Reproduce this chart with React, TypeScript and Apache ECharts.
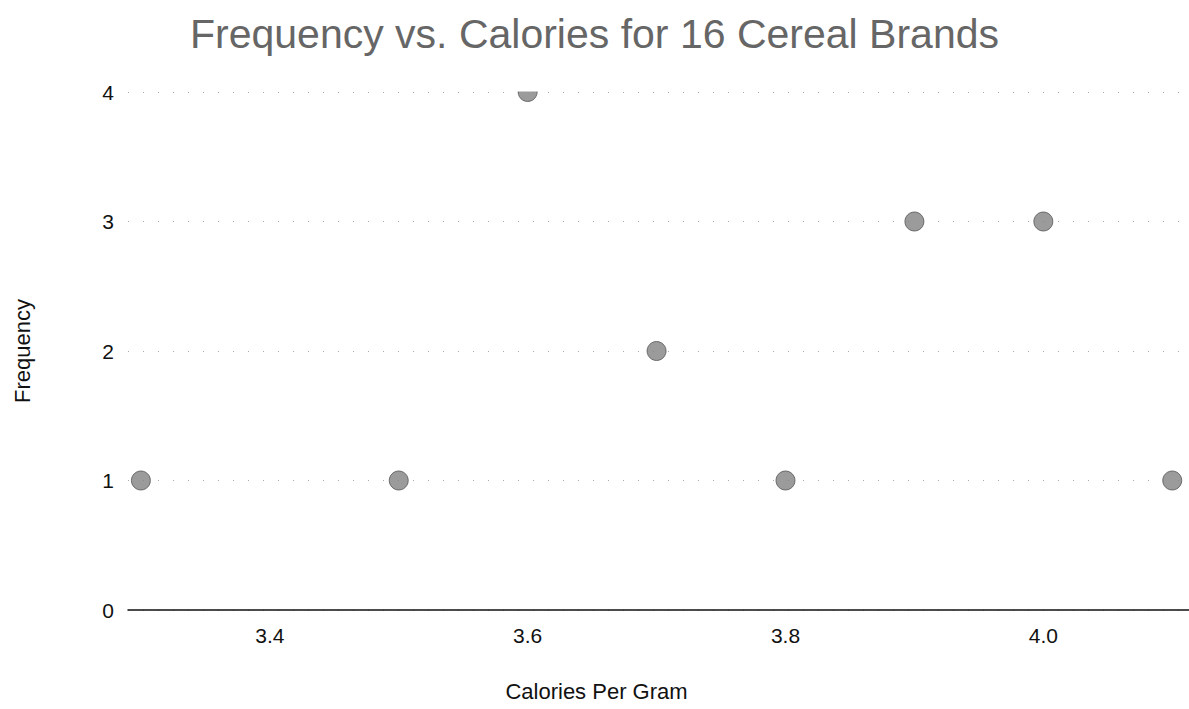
import React, { useEffect, useRef } from "react";
import * as echarts from "echarts";

const calories = [3.3, 3.5, 3.6, 3.7, 3.8, 3.9, 4.0, 4.1];
const frequency = [1, 1, 4, 2, 1, 3, 3, 1];
const xTicks = [3.4, 3.6, 3.8, 4.0];
const titleText = "Frequency vs. Calories for 16 Cereal Brands";
const xName = "Calories Per Gram";
const yName = "Frequency";

export default function App() {
  const ref = useRef<HTMLDivElement>(null);
  useEffect(() => {
    if (!ref.current) return;
    const chart = echarts.init(ref.current, null, { renderer: "svg" });
    const font = "'Liberation Sans', Arial, sans-serif";
    chart.setOption({
      animation: false,
      backgroundColor: "#ffffff",
      title: {
        text: titleText,
        left: "center",
        top: 8,
        z: 20,
        textStyle: { fontFamily: font, fontSize: 41, fontWeight: "normal", color: "#666" },
      },
      graphic: [
        {
          type: "rect",
          z: 10,
          shape: { x: 128, y: 62, width: 1061, height: 29.5 },
          style: { fill: "#ffffff" },
        },
      ],
      grid: { left: 128, right: 0, top: 92, bottom: 99, containLabel: false },
      xAxis: {
        type: "value",
        min: 3.29,
        max: 4.113,
        name: xName,
        nameLocation: "middle",
        nameGap: 70,
        nameTextStyle: {
          fontFamily: font,
          fontSize: 22,
          color: "#111",
          padding: [0, 124, 0, 0],
        },
        axisLine: { show: true, lineStyle: { color: "#111", width: 1.5 } },
        axisTick: { show: false },
        splitLine: { show: false },
        axisLabel: {
          customValues: xTicks,
          formatter: (v: number) => v.toFixed(1),
          fontFamily: font,
          fontSize: 21,
          color: "#111",
          margin: 15,
        },
      },
      yAxis: {
        type: "value",
        min: 0,
        max: 4,
        interval: 1,
        name: yName,
        nameLocation: "middle",
        nameGap: 95,
        nameTextStyle: { fontFamily: font, fontSize: 22, color: "#111" },
        axisLine: { show: false },
        axisTick: { show: false },
        axisLabel: { fontFamily: font, fontSize: 21, color: "#111", margin: 14 },
        splitLine: { show: true, lineStyle: { color: "#aaa", width: 1, type: [1, 14] } },
      },
      series: [
        {
          type: "scatter",
          data: calories.map((c, i) => [c, frequency[i]]),
          symbolSize: 19,
          clip: true,
          itemStyle: { color: "#828282", borderColor: "#555", borderWidth: 1 },
        },
      ],
    });
    return () => chart.dispose();
  }, []);
  return (
    <div
      ref={ref}
      style={{ position: "fixed", left: 0, top: 0, width: 1189, height: 709 }}
    />
  );
}
